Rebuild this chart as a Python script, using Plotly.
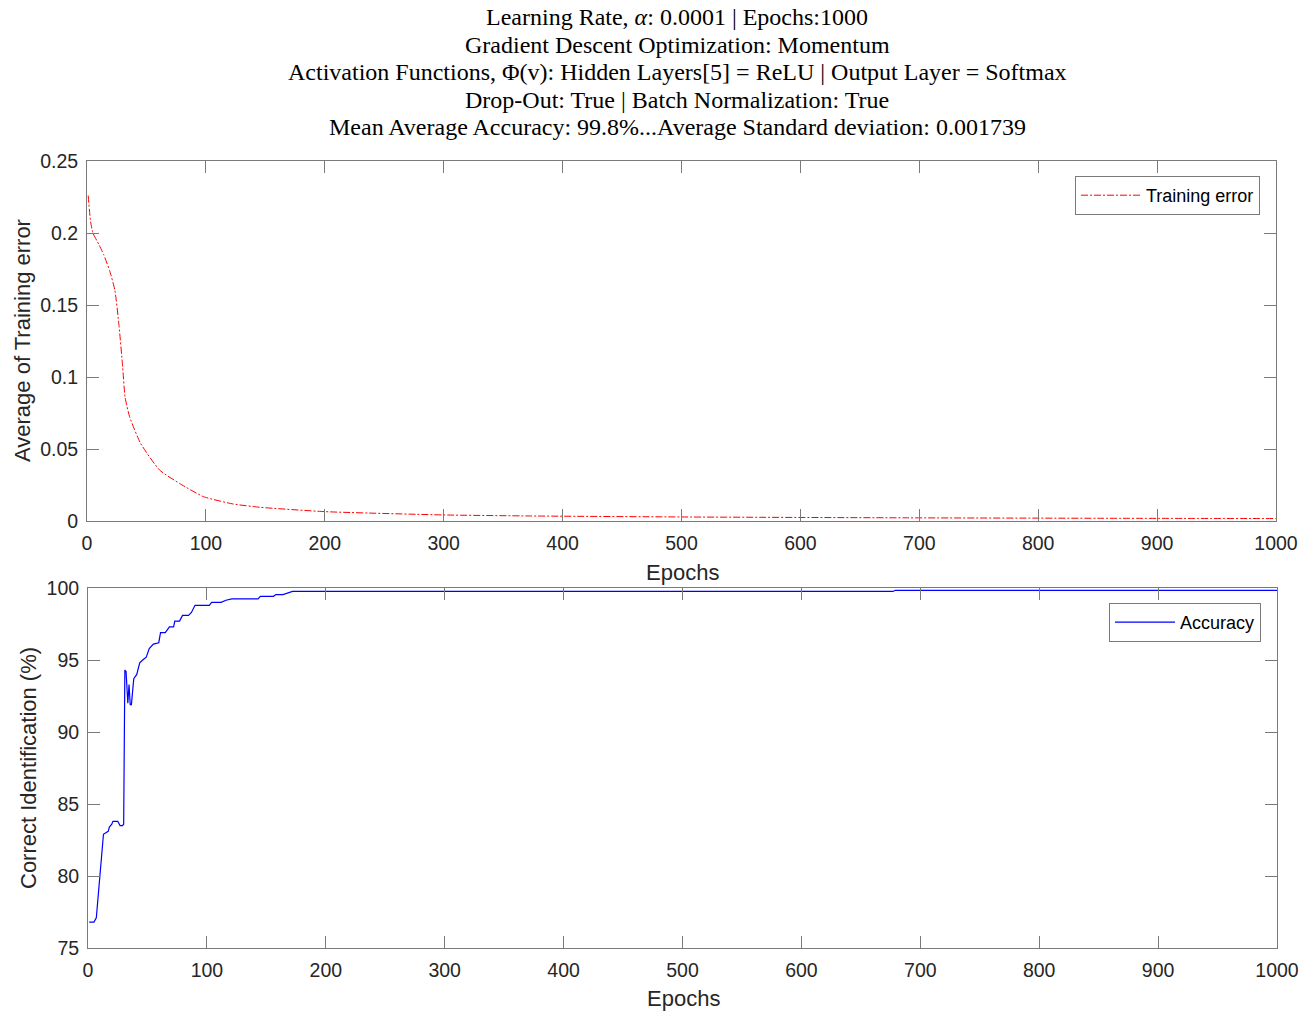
import plotly.graph_objects as go

# ---- data ----
err_epochs = [1, 3, 5, 10, 14, 19, 23.5, 27, 30, 32, 36, 45, 61, 78, 98, 123, 146,
              200, 300, 373, 500, 690, 850, 1000]
err_values = [0.226, 0.208, 0.200, 0.192, 0.185, 0.174, 0.160, 0.135, 0.107, 0.086,
              0.072, 0.054, 0.0354, 0.026, 0.0169, 0.0118, 0.0095,
              0.0065, 0.0042, 0.0035, 0.0028, 0.0022, 0.0019, 0.0017]

acc_epochs = [1, 5, 7, 10, 13, 15, 17, 18, 20, 21, 25, 27, 29, 30, 31, 32, 33.5, 34.5,
              35.5, 36.5, 38.5, 41, 43.5, 46, 49, 51.5, 55, 59.5, 61, 65, 68.5, 72, 73,
              77, 79.5, 84.5, 87, 90, 102, 104, 112, 116, 121, 143, 145, 156, 158, 164,
              172, 677, 679, 1000]
acc_values = [76.8, 76.8, 77.1, 80.0, 82.9, 83.0, 83.1, 83.4, 83.6, 83.8, 83.8, 83.5,
              83.5, 83.6, 94.3, 94.2, 92.0, 93.3, 91.9, 91.9, 93.7, 94.0, 94.8, 95.0,
              95.2, 95.8, 96.1, 96.2, 96.9, 96.9, 97.3, 97.3, 97.7, 97.7, 98.1, 98.1,
              98.3, 98.8, 98.8, 99.0, 99.0, 99.15, 99.24, 99.24, 99.42, 99.42, 99.54,
              99.54, 99.76, 99.76, 99.84, 99.84]

x_ticks = list(range(0, 1001, 100))
err_ticks = [0, 0.05, 0.1, 0.15, 0.2, 0.25]
acc_ticks = [75, 80, 85, 90, 95, 100]

title_lines = [
    "Learning Rate, <i>α</i>: 0.0001 | Epochs:1000",
    "Gradient Descent Optimization: Momentum",
    "Activation Functions, Φ(v): Hidden Layers[5] = ReLU | Output Layer = Softmax",
    "Drop-Out: True | Batch Normalization: True",
    "Mean Average Accuracy: 99.8%...Average Standard deviation: 0.001739",
]

# ---- figure ----
W, H = 1315, 1014
SANS = "Liberation Sans, Arial, sans-serif"
SERIF = "Liberation Serif, Times New Roman, serif"
AX = "#7a7a7a"
TXT = "#262626"

fig = go.Figure()
fig.add_trace(go.Scatter(x=err_epochs, y=err_values, mode="lines", name="Training error",
                         line=dict(color="red", width=1, dash="7px,2px,2px,2px", shape="spline", smoothing=0.5),
                         xaxis="x", yaxis="y", legend="legend"))
fig.add_trace(go.Scatter(x=acc_epochs, y=acc_values, mode="lines", name="Accuracy",
                         line=dict(color="blue", width=1.2),
                         xaxis="x2", yaxis="y2", legend="legend2"))


def px_x(p):
    return p / W


def px_y(p):
    return 1 - p / H


axis_common = dict(showgrid=False, zeroline=False, showline=True, linecolor=AX, linewidth=1,
                   mirror="ticks", ticks="inside", ticklen=12, tickcolor=AX, tickwidth=1,
                   tickfont=dict(family=SANS, size=19.5, color=TXT))

fig.update_layout(
    width=W, height=H,
    margin=dict(l=0, r=0, t=0, b=0, autoexpand=False),
    paper_bgcolor="white", plot_bgcolor="white",
    xaxis=dict(domain=[px_x(87), px_x(1276)], range=[0, 1000], tickvals=x_ticks, anchor="y",
               ticklabelstandoff=5, **axis_common),
    yaxis=dict(domain=[px_y(521), px_y(161)], range=[0, 0.25], tickvals=err_ticks, anchor="x",
               ticklabelstandoff=4, **axis_common),
    xaxis2=dict(domain=[px_x(88), px_x(1277)], range=[0, 1000], tickvals=x_ticks, anchor="y2",
                ticklabelstandoff=5, **axis_common),
    yaxis2=dict(domain=[px_y(948), px_y(588)], range=[75, 100], tickvals=acc_ticks, anchor="x2",
                ticklabelstandoff=4, **axis_common),
    legend=dict(x=px_x(1260), y=px_y(176), xanchor="right", yanchor="top",
                bordercolor=AX, borderwidth=1, bgcolor="white",
                font=dict(family=SANS, size=18, color="black"), itemwidth=60),
    legend2=dict(x=px_x(1261), y=px_y(603), xanchor="right", yanchor="top",
                 bordercolor=AX, borderwidth=1, bgcolor="white",
                 font=dict(family=SANS, size=18, color="black"), itemwidth=60),
    showlegend=True,
)

anns = []
title_centers = [17, 45, 72, 100, 127]
for line, yc in zip(title_lines, title_centers):
    anns.append(dict(text=line, x=px_x(677), y=px_y(yc), xanchor="center", yanchor="middle",
                     borderpad=0, font=dict(family=SERIF, size=24, color="black")))
anns += [
    dict(text="Epochs", x=px_x(682), y=px_y(572), xanchor="center", yanchor="middle",
         font=dict(family=SANS, size=22, color=TXT)),
    dict(text="Epochs", x=px_x(683), y=px_y(998), xanchor="center", yanchor="middle",
         font=dict(family=SANS, size=22, color=TXT)),
    dict(text="Average of Training error", x=px_x(22), y=px_y(341), xanchor="center", yanchor="middle",
         textangle=-90, font=dict(family=SANS, size=22, color=TXT)),
    dict(text="Correct Identification (%)", x=px_x(28), y=px_y(768), xanchor="center", yanchor="middle",
         textangle=-90, font=dict(family=SANS, size=22, color=TXT)),
]
for a in anns:
    a.update(xref="paper", yref="paper", showarrow=False)
fig.update_layout(annotations=anns)

fig.write_html("out.html", config={"displayModeBar": False},
               post_script="document.body.style.margin='0';document.body.style.overflow='hidden';")
